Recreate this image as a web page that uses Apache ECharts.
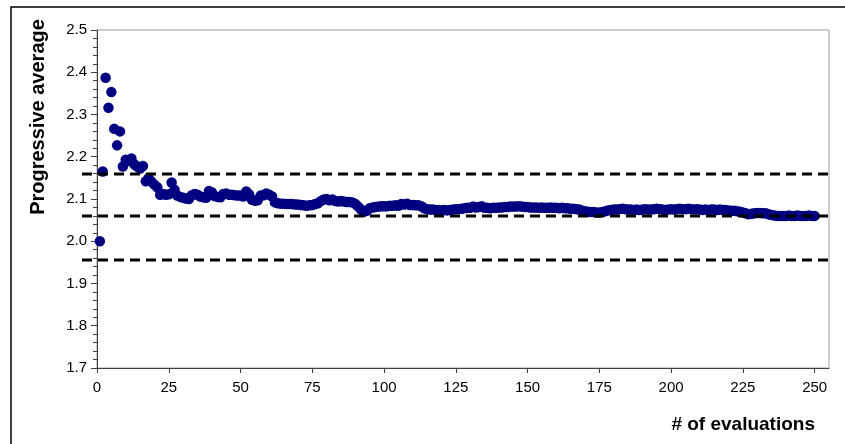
<!DOCTYPE html>
<html>
<head>
<meta charset="utf-8">
<script src="https://cdn.jsdelivr.net/npm/echarts@6/dist/echarts.min.js"></script>
<style>
  html, body { margin: 0; padding: 0; background: #fff; }
  #chart { width: 845px; height: 444px; }
</style>
</head>
<body>
<div id="chart"></div>
<script>
// progressive average after each evaluation (evaluation 1..250)
const progAvg = [
  2.000, 2.165, 2.387, 2.316, 2.353, 2.266, 2.227, 2.260, 2.177, 2.193,
  2.190, 2.196, 2.182, 2.177, 2.172, 2.178, 2.142, 2.150, 2.141, 2.134,
  2.128, 2.110, 2.112, 2.110, 2.111, 2.139, 2.122, 2.108, 2.105, 2.103,
  2.101, 2.100, 2.109, 2.112, 2.110, 2.106, 2.104, 2.103, 2.119, 2.116,
  2.107, 2.105, 2.104, 2.112, 2.113, 2.110, 2.110, 2.109, 2.108, 2.108,
  2.106, 2.118, 2.111, 2.098, 2.096, 2.097, 2.108, 2.109, 2.113, 2.110,
  2.106, 2.092, 2.090, 2.089, 2.089, 2.088, 2.088, 2.088, 2.087, 2.087,
  2.086, 2.085, 2.084, 2.085, 2.086, 2.088, 2.090, 2.095, 2.099, 2.100,
  2.097, 2.099, 2.095, 2.094, 2.095, 2.094, 2.093, 2.093, 2.092, 2.088,
  2.082, 2.075, 2.070, 2.072, 2.078, 2.080, 2.081, 2.082, 2.083, 2.083,
  2.083, 2.084, 2.084, 2.085, 2.084, 2.088, 2.087, 2.089, 2.086, 2.086,
  2.085, 2.085, 2.083, 2.078, 2.076, 2.075, 2.075, 2.074, 2.074, 2.073,
  2.074, 2.073, 2.074, 2.075, 2.076, 2.076, 2.077, 2.078, 2.079, 2.079,
  2.082, 2.080, 2.081, 2.083, 2.079, 2.079, 2.078, 2.079, 2.079, 2.080,
  2.080, 2.081, 2.081, 2.082, 2.082, 2.082, 2.083, 2.082, 2.081, 2.081,
  2.080, 2.080, 2.080, 2.079, 2.080, 2.079, 2.079, 2.080, 2.079, 2.079,
  2.078, 2.079, 2.078, 2.078, 2.077, 2.077, 2.076, 2.075, 2.072, 2.071,
  2.070, 2.069, 2.069, 2.068, 2.068, 2.069, 2.071, 2.073, 2.074, 2.075,
  2.075, 2.076, 2.077, 2.076, 2.075, 2.075, 2.074, 2.075, 2.074, 2.075,
  2.076, 2.075, 2.075, 2.076, 2.077, 2.076, 2.075, 2.074, 2.075, 2.076,
  2.075, 2.076, 2.077, 2.076, 2.076, 2.077, 2.076, 2.075, 2.076, 2.075,
  2.074, 2.075, 2.074, 2.075, 2.075, 2.074, 2.075, 2.074, 2.074, 2.073,
  2.072, 2.072, 2.071, 2.070, 2.068, 2.066, 2.064, 2.065, 2.066, 2.067,
  2.067, 2.066, 2.066, 2.064, 2.062, 2.061, 2.060, 2.060, 2.060, 2.060,
  2.061, 2.060, 2.060, 2.061, 2.060, 2.060, 2.060, 2.061, 2.060, 2.060
]
// horizontal reference levels (dashed)
const refLevels = [2.159, 2.06, 1.955]
const xTicks = [0, 25, 50, 75, 100, 125, 150, 175, 200, 225, 250]

const points = progAvg.map((v, i) => [i + 1, v])
const X_MAX = 255

const font = 'Arial, "Liberation Sans", sans-serif'
const chart = echarts.init(document.getElementById('chart'))

chart.setOption({
  animation: false,
  backgroundColor: '#fff',
  grid: {
    left: 97, top: 30, right: 16, bottom: 76,
    show: true, borderColor: '#a0a0a0', borderWidth: 1
  },
  xAxis: {
    type: 'value', min: 0, max: X_MAX,
    splitLine: { show: false },
    axisLine: { show: true, lineStyle: { color: '#404040', width: 1 } },
    axisTick: { show: true, customValues: xTicks, length: 5, lineStyle: { color: '#404040' } },
    axisLabel: { customValues: xTicks, color: '#000', fontFamily: font, fontSize: 15, margin: 12 }
  },
  yAxis: {
    type: 'value', min: 1.7, max: 2.5, interval: 0.1,
    splitLine: { show: false },
    axisLine: { show: true, lineStyle: { color: '#404040', width: 1 } },
    axisTick: { show: true, length: 6, lineStyle: { color: '#404040' } },
    minorTick: { show: true, splitNumber: 5, length: 4, lineStyle: { color: '#404040' } },
    axisLabel: {
      color: '#000', fontFamily: font, fontSize: 15, margin: 10,
      formatter: v => v.toFixed(1)
    }
  },
  series: [{
    type: 'scatter',
    data: points,
    symbol: 'circle',
    symbolSize: 10.5,
    itemStyle: { color: '#000080', opacity: 1 }
  }],
  graphic: [
    {
      id: 'frame', type: 'rect', silent: true,
      shape: { x: 11, y: 7, width: 850, height: 450 },
      style: { fill: 'none', stroke: '#000', lineWidth: 1.5 }
    },
    {
      id: 'yname', type: 'text', x: 38, y: 117, rotation: Math.PI / 2,
      style: {
        text: 'Progressive average', fill: '#000',
        font: 'bold 20px ' + font, align: 'center', verticalAlign: 'middle'
      }
    },
    {
      id: 'xname', type: 'text', x: 815, y: 425,
      style: {
        text: '# of evaluations', fill: '#000',
        font: 'bold 19px ' + font, align: 'right', verticalAlign: 'middle'
      }
    }
  ]
})

// dashed reference lines: they start a little left of the y axis, like the original
const xRight = chart.convertToPixel({ xAxisIndex: 0 }, X_MAX)
const xLeft = chart.convertToPixel({ xAxisIndex: 0 }, 0) - 15
chart.setOption({
  graphic: refLevels.map((lv, i) => {
    const py = Math.round(chart.convertToPixel({ yAxisIndex: 0 }, lv))
    return {
      id: 'ref' + i, type: 'line', silent: true, z: 100,
      shape: { x1: xLeft, y1: py, x2: xRight, y2: py },
      style: { stroke: '#000', lineWidth: 3, lineDash: [10, 6] }
    }
  })
})
</script>
</body>
</html>
